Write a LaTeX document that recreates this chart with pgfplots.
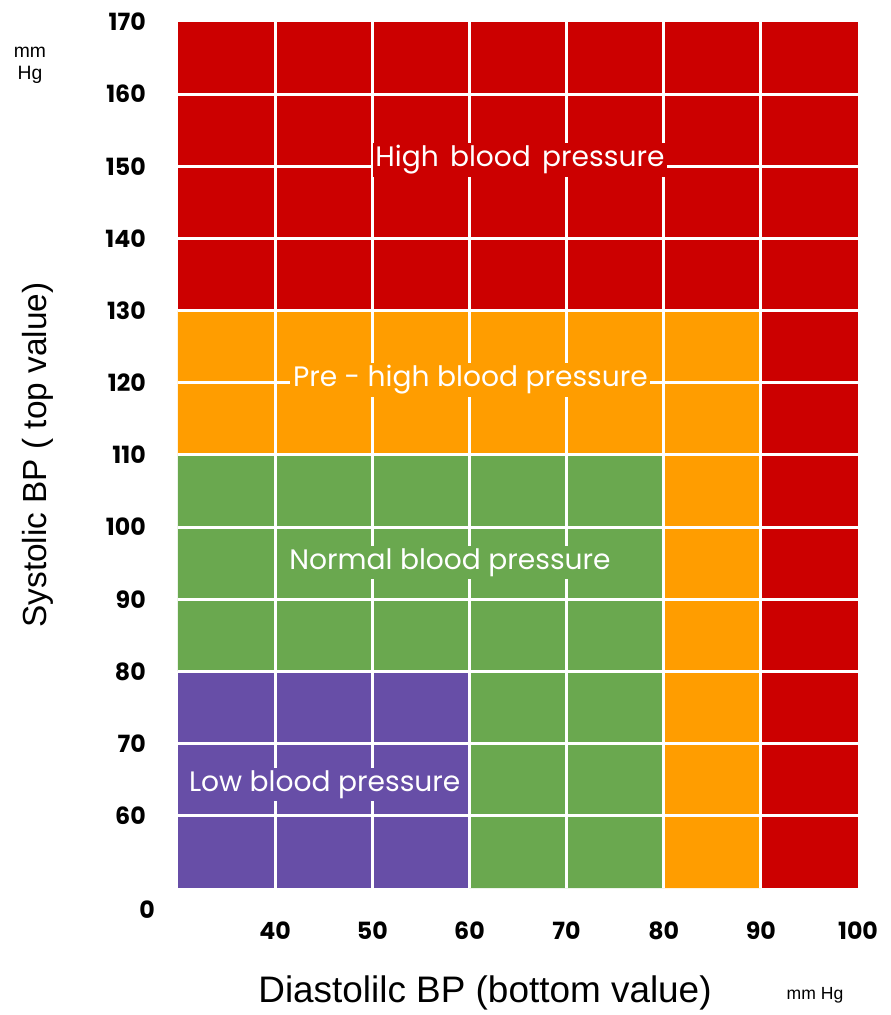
\documentclass[border=0pt]{standalone}
\usepackage{fontspec}
\setmainfont{Liberation Sans}
\newfontfamily\geo{Poppins}
\usepackage{pgfplots}
\pgfplotsset{compat=1.18}
\definecolor{hbp}{RGB}{204,0,0}
\definecolor{pre}{RGB}{255,157,0}
\definecolor{nor}{RGB}{106,168,79}
\definecolor{low}{RGB}{103,78,167}
\begin{document}
\begin{tikzpicture}
\useasboundingbox (-35.6mm,-25.4mm) rectangle (142.4mm,177.6mm);
\begin{axis}[at={(0,0)}, anchor=south west, scale only axis,
  width=136mm, height=173.2mm,
  xmin=30, xmax=100, ymin=50, ymax=170,
  xtick={40,50,60,70,80,90,100},
  ytick={60,70,80,90,100,110,120,130,140,150,160,170},
  axis line style={draw=none}, major tick length=0pt,
  /pgf/number format/assume math mode=true,
  tick label style={font=\geo\bfseries\fontsize{13.5}{13.5}\selectfont},
  yticklabel style={anchor=east, xshift=-5.2mm},
  xticklabel style={anchor=north, yshift=-5.6mm},
  clip=false]
\addplot[draw=none, fill=hbp] coordinates {(30,50) (100,50) (100,170) (30,170)} -- cycle;
\addplot[draw=none, fill=pre] coordinates {(30,110) (80,110) (80,50) (90,50) (90,130) (30,130)} -- cycle;
\addplot[draw=none, fill=nor] coordinates {(30,80) (60,80) (60,50) (80,50) (80,110) (30,110)} -- cycle;
\addplot[draw=none, fill=low] coordinates {(30,50) (60,50) (60,80) (30,80)} -- cycle;
\pgfplotsinvokeforeach{40,50,60,70,80,90}{\draw[white, line width=0.6mm] (axis cs:#1,50) -- (axis cs:#1,170);}
\pgfplotsinvokeforeach{60,70,80,90,100,110,120,130,140,150,160}{\draw[white, line width=0.6mm] (axis cs:30,#1) -- (axis cs:100,#1);}
\node[fill=hbp, text=white, inner sep=1.5pt, font=\geo\fontsize{16}{16}\selectfont] at (axis cs:65.2,150.9) {High\hspace{0.4em}blood\hspace{0.4em}pressure};
\node[fill=pre, text=white, inner sep=1.5pt, font=\geo\fontsize{16}{16}\selectfont] at (axis cs:60.1,120.4) {Pre - high blood pressure};
\node[fill=nor, text=white, inner sep=1.5pt, font=\geo\fontsize{16}{16}\selectfont] at (axis cs:58,95.1) {Normal blood pressure};
\node[fill=low, text=white, inner sep=1.5pt, font=\geo\fontsize{16}{16}\selectfont] at (axis cs:45.1,64.3) {Low blood pressure};
\end{axis}
\node[font=\geo\bfseries\fontsize{13.5}{13.5}\selectfont] at (-6.2mm,-4.4mm) {0};
\node[rotate=90, font=\fontsize{19}{19}\selectfont] at (-28mm,86.6mm) {Systolic BP ( top value)};
\node[font=\fontsize{21}{21}\selectfont] at (61.4mm,-21mm) {Diastolilc BP (bottom value)};
\node[font=\fontsize{10}{10}\selectfont] at (127.4mm,-21.4mm) {mm Hg};
\node[font=\fontsize{11}{12.5}\selectfont, align=center] at (-29.6mm,164.6mm) {mm\\Hg};
\end{tikzpicture}
\end{document}
